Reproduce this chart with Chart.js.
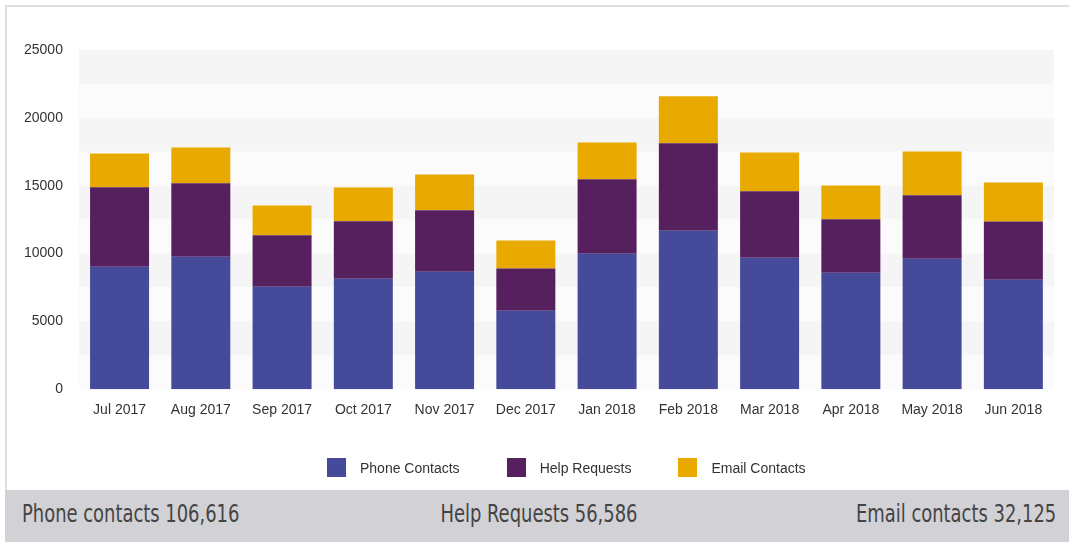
<!DOCTYPE html>
<html>
<head>
<meta charset="utf-8">
<script src="https://cdn.jsdelivr.net/npm/chart.js@4/dist/chart.umd.min.js"></script>
<style>
  html, body { margin: 0; padding: 0; background: #ffffff; }
  body { width: 1069px; height: 542px; position: relative; overflow: hidden; }
  #panel {
    position: absolute; left: 5px; top: 5px; width: 1062px; height: 483px;
    border-top: 2px solid #dedede; border-left: 2px solid #dedede;
  }
  #panel canvas { display: block; }
  #legend {
    position: absolute; left: 327px; top: 458px; height: 19px;
    display: flex; align-items: center;
    font-family: "Liberation Sans", Arial, sans-serif; font-size: 14px; color: #333333;
  }
  #legend .item { display: flex; align-items: center; margin-right: 47px; }
  #legend .swatch { width: 19px; height: 19px; margin-right: 14px; }
  #totals {
    position: absolute; left: 5px; top: 490px; width: 1064px; height: 52px;
    background: #d2d1d6; color: #444444;
    font-family: "DejaVu Sans Condensed", "Liberation Sans", sans-serif;
    font-size: 24px; line-height: 48px;
  }
  #totals span { position: absolute; top: 0; white-space: nowrap; }
  #tPhone { left: 17px; transform: scaleX(0.83); transform-origin: left center; }
  #tHelp  { left: 534px; transform: translateX(-50%) scaleX(0.83); transform-origin: center center; }
  #tEmail { right: 13px; transform: scaleX(0.83); transform-origin: right center; }
</style>
</head>
<body>
<div id="panel"><canvas id="chart" width="1062" height="483"></canvas></div>
<div id="legend"></div>
<div id="totals">
  <span id="tPhone"></span><span id="tHelp"></span><span id="tEmail"></span>
</div>
<script>
// Monthly contact volumes, July 2017 - June 2018
const months = ['Jul 2017', 'Aug 2017', 'Sep 2017', 'Oct 2017', 'Nov 2017', 'Dec 2017',
                'Jan 2018', 'Feb 2018', 'Mar 2018', 'Apr 2018', 'May 2018', 'Jun 2018'];
const phoneContacts = [9032, 9770, 7558, 8148, 8663, 5788, 9990, 11687, 9696, 8590, 9622, 8072];
const helpRequests  = [5846, 5404, 3781, 4223, 4519, 3117, 5478, 6439, 4887, 3929, 4666, 4297];
const emailContacts = [2492, 2640, 2197, 2493, 2639, 2050, 2713, 3457, 2861, 2492, 3230, 2861];

const yMax = 25000;
const yStep = 2500;
const yLabelStep = 5000;

const sum = a => a.reduce((s, v) => s + v, 0);
const fmt = n => n.toLocaleString('en-US');
document.getElementById('tPhone').textContent = 'Phone contacts ' + fmt(sum(phoneContacts));
document.getElementById('tHelp').textContent  = 'Help Requests ' + fmt(sum(helpRequests));
document.getElementById('tEmail').textContent = 'Email contacts ' + fmt(sum(emailContacts));

// Alternating horizontal bands behind the bars, one per y step
const bandPlugin = {
  id: 'bands',
  beforeDatasetsDraw(chart) {
    const { ctx, chartArea, scales: { y } } = chart;
    ctx.save();
    let i = 0;
    for (let v = yMax; v > 0; v -= yStep, i++) {
      const top = y.getPixelForValue(v);
      const bottom = y.getPixelForValue(v - yStep);
      ctx.fillStyle = i % 2 === 0 ? '#f5f5f5' : '#fbfbfb';
      ctx.fillRect(chartArea.left, top, chartArea.right - chartArea.left, bottom - top);
    }
    ctx.restore();
  }
};

// Legend rendered as HTML from the chart's own legend items
const htmlLegendPlugin = {
  id: 'htmlLegend',
  afterUpdate(chart) {
    const box = document.getElementById('legend');
    box.innerHTML = '';
    const items = chart.options.plugins.legend.labels.generateLabels(chart);
    items.forEach(item => {
      const el = document.createElement('div');
      el.className = 'item';
      const sw = document.createElement('span');
      sw.className = 'swatch';
      sw.style.background = item.fillStyle;
      const tx = document.createElement('span');
      tx.textContent = item.text;
      el.appendChild(sw);
      el.appendChild(tx);
      box.appendChild(el);
    });
  }
};

const font = { family: '"Liberation Sans", Arial, sans-serif', size: 14 };

new Chart(document.getElementById('chart'), {
  type: 'bar',
  data: {
    labels: months,
    datasets: [
      { label: 'Phone Contacts', data: phoneContacts, backgroundColor: '#464a9b' },
      { label: 'Help Requests',  data: helpRequests,  backgroundColor: '#561f5e' },
      { label: 'Email Contacts', data: emailContacts, backgroundColor: '#e8a900' }
    ]
  },
  options: {
    responsive: false,
    animation: false,
    datasets: { bar: { categoryPercentage: 1, barPercentage: 0.726 } },
    layout: { padding: { left: 1, right: 15, top: 43, bottom: 58 } },
    plugins: {
      legend: { display: false },
      tooltip: { enabled: false }
    },
    scales: {
      x: {
        stacked: true,
        grid: { display: false, drawTicks: false },
        border: { display: false },
        ticks: { color: '#333333', font: font, padding: 13, maxRotation: 0 }
      },
      y: {
        stacked: true,
        min: 0, max: yMax,
        grid: { display: false, drawTicks: false },
        border: { display: false },
        ticks: {
          stepSize: yStep, color: '#333333', font: font, padding: 16,
          callback: v => (v % yLabelStep === 0 ? String(v) : '')
        }
      }
    }
  },
  plugins: [bandPlugin, htmlLegendPlugin]
});
</script>
</body>
</html>
